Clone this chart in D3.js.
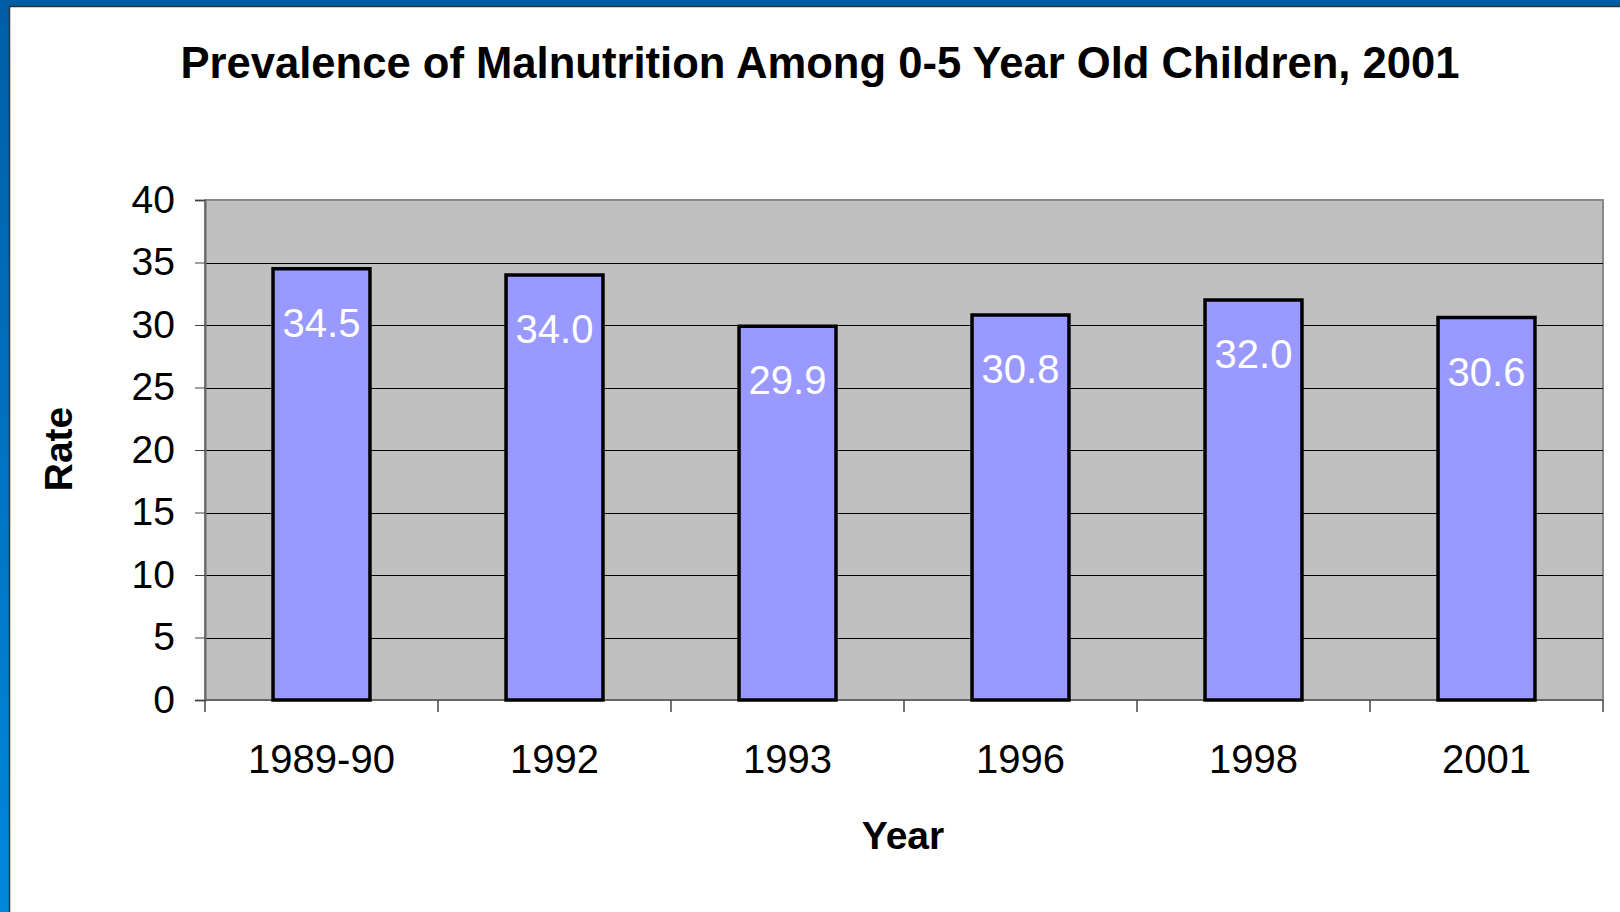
<!DOCTYPE html>
<html>
<head>
<meta charset="utf-8">
<script src="https://cdn.jsdelivr.net/npm/d3@7"></script>
<style>
  html, body { margin: 0; padding: 0; background: #fff; }
  svg { display: block; font-family: "Liberation Sans", Arial, sans-serif; }
</style>
</head>
<body>
<div id="chart"></div>
<script>
const width = 1620
const height = 912
const margin = { top: 200, right: 17, bottom: 212, left: 205 }

// data
const years = ['1989-90', '1992', '1993', '1996', '1998', '2001']
const rates = [34.5, 34.0, 29.9, 30.8, 32.0, 30.6]
const yTicks = [0, 5, 10, 15, 20, 25, 30, 35, 40]

const data = years.map((year, i) => ({ year, rate: rates[i] }))

const svg = d3.select('#chart')
  .append('svg')
  .attr('width', width)
  .attr('height', height)

// slide frame (blue edge top and left)
const defs = svg.append('defs')
const grad = defs.append('linearGradient')
  .attr('id', 'edge')
  .attr('x1', 0).attr('y1', 0).attr('x2', 0).attr('y2', 1)
grad.append('stop').attr('offset', '0%').attr('stop-color', '#005ea6')
grad.append('stop').attr('offset', '100%').attr('stop-color', '#0088dd')

svg.append('rect').attr('x', 0).attr('y', 0).attr('width', width).attr('height', 6).attr('fill', '#005ea6')
svg.append('rect').attr('x', 0).attr('y', 0).attr('width', 9).attr('height', height).attr('fill', 'url(#edge)')
svg.append('line').attr('x1', 9.5).attr('x2', 9.5).attr('y1', 6).attr('y2', height)
  .attr('stroke', '#333').attr('stroke-width', 1.5)
svg.append('line').attr('x1', 9).attr('x2', width).attr('y1', 6.5).attr('y2', 6.5)
  .attr('stroke', '#333').attr('stroke-width', 1.5)

const x = d3.scaleBand()
  .domain(years)
  .range([margin.left, width - margin.right])
  .paddingInner(0)
  .paddingOuter(0)

const y = d3.scaleLinear()
  .domain([0, 40])
  .range([height - margin.bottom, margin.top])

const barWidth = x.bandwidth() * 0.416

// plot area
svg.append('rect')
  .attr('x', x.range()[0])
  .attr('y', y(40))
  .attr('width', x.range()[1] - x.range()[0])
  .attr('height', y(0) - y(40))
  .attr('fill', '#c0c0c0')
  .attr('stroke', '#8a8a8a')
  .attr('stroke-width', 2)

// gridlines
svg.append('g')
  .selectAll('line')
  .data(yTicks.filter((t) => t > 0 && t < 40))
  .enter()
  .append('line')
  .attr('x1', x.range()[0])
  .attr('x2', x.range()[1])
  .attr('y1', (d) => Math.round(y(d)) + 0.5)
  .attr('y2', (d) => Math.round(y(d)) + 0.5)
  .attr('stroke', '#000')
  .attr('stroke-width', 1.2)

// y axis
const yAxis = svg.append('g')
  .attr('transform', `translate(${x.range()[0]},0)`)
  .call(d3.axisLeft(y).tickValues(yTicks).tickSize(10).tickPadding(20))
yAxis.select('.domain').attr('stroke', '#666').attr('stroke-width', 2)
yAxis.selectAll('.tick line').attr('stroke', '#444')
yAxis.selectAll('.tick text')
  .attr('font-size', 39)
  .attr('font-family', '"Liberation Sans", Arial, sans-serif')
  .attr('fill', '#000')

// x axis: ticks sit between categories
const xAxis = svg.append('g')
  .attr('transform', `translate(0,${y(0)})`)
xAxis.append('line')
  .attr('x1', x.range()[0]).attr('x2', x.range()[1])
  .attr('y1', 0).attr('y2', 0)
  .attr('stroke', '#666').attr('stroke-width', 2)
xAxis.selectAll('line.tick')
  .data(years.map((d) => x(d)).concat([x.range()[1]]))
  .enter()
  .append('line')
  .attr('class', 'tick')
  .attr('x1', (d) => d).attr('x2', (d) => d)
  .attr('y1', 0).attr('y2', 12)
  .attr('stroke', '#444').attr('stroke-width', 1.5)
xAxis.selectAll('text')
  .data(years)
  .enter()
  .append('text')
  .attr('x', (d) => x(d) + x.bandwidth() / 2)
  .attr('y', 73)
  .attr('text-anchor', 'middle')
  .attr('font-size', 40)
  .attr('fill', '#000')
  .text((d) => d)

// bars
svg.append('g')
  .selectAll('rect')
  .data(data)
  .enter()
  .append('rect')
  .attr('x', (d) => x(d.year) + (x.bandwidth() - barWidth) / 2)
  .attr('y', (d) => y(d.rate))
  .attr('width', barWidth)
  .attr('height', (d) => y(0) - y(d.rate))
  .attr('fill', '#9999ff')
  .attr('stroke', '#000')
  .attr('stroke-width', 3.5)

// value labels
svg.append('g')
  .selectAll('text')
  .data(data)
  .enter()
  .append('text')
  .attr('x', (d) => x(d.year) + x.bandwidth() / 2)
  .attr('y', (d) => y(d.rate) + 68)
  .attr('text-anchor', 'middle')
  .attr('font-size', 40)
  .attr('fill', '#fff')
  .text((d) => d.rate.toFixed(1))

// title
svg.append('text')
  .attr('x', 820)
  .attr('y', 78)
  .attr('text-anchor', 'middle')
  .attr('font-size', 43.6)
  .attr('font-weight', 'bold')
  .attr('fill', '#000')
  .text('Prevalence of Malnutrition Among 0-5 Year Old Children, 2001')

// axis titles
svg.append('text')
  .attr('transform', 'translate(72,449) rotate(-90)')
  .attr('text-anchor', 'middle')
  .attr('font-size', 39)
  .attr('font-weight', 'bold')
  .attr('fill', '#000')
  .text('Rate')

svg.append('text')
  .attr('x', 903)
  .attr('y', 849)
  .attr('text-anchor', 'middle')
  .attr('font-size', 39)
  .attr('font-weight', 'bold')
  .attr('fill', '#000')
  .text('Year')
</script>
</body>
</html>
